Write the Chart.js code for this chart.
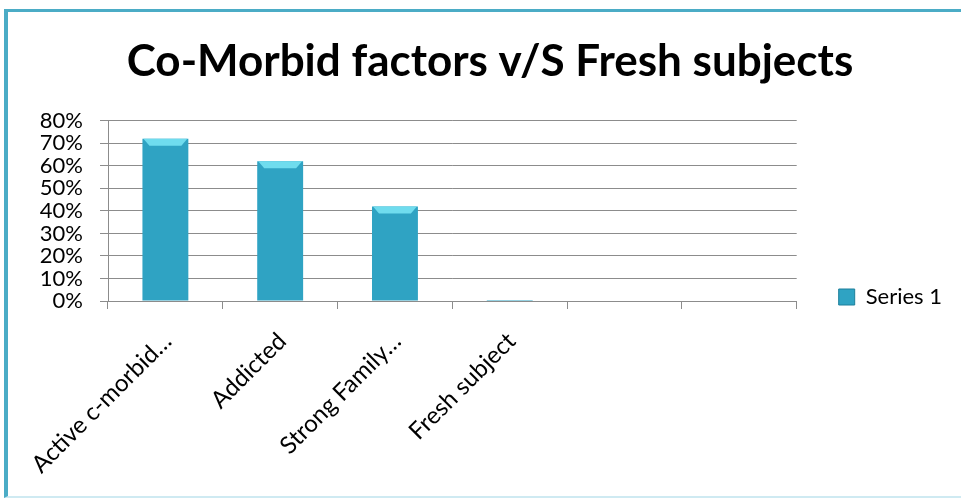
<!DOCTYPE html>
<html>
<head>
<meta charset="utf-8">
<script src="https://cdn.jsdelivr.net/npm/chart.js@4.4.0/dist/chart.umd.min.js"></script>
<style>
  html, body { margin: 0; padding: 0; background: #fff; overflow: hidden; }
  #frame {
    position: absolute; left: 4px; top: 9px; width: 980px; height: 484px;
    border-left: 4px solid #4bacc6; border-top: 3px solid #4bacc6;
    border-bottom: 2px solid #cfeaf2;
  }
  #wrap { position: absolute; left: 0; top: 0; width: 961px; height: 498px; }
</style>
</head>
<body>
<div id="frame"></div>
<div id="wrap"><canvas id="chart"></canvas></div>
<script>
const categories = ["Active c-morbid…", "Addicted", "Strong Family…", "Fresh subject", "", ""];
const series1 = [0.72, 0.62, 0.42, 0.004, null, null];
const yTicks = [0, 0.1, 0.2, 0.3, 0.4, 0.5, 0.6, 0.7, 0.8];

const font = "Lato, 'Open Sans', sans-serif";
const canvas = document.getElementById("chart");

// per bar horizontal gradient, dark edges and light middle
function barFill(ctx) {
    const chart = ctx.chart;
    if (!chart.chartArea || ctx.type !== "data") return "#2fa3c3";
    const meta = chart.getDatasetMeta(ctx.datasetIndex);
    const bar = meta.data[ctx.dataIndex];
    if (!bar || !isFinite(bar.x) || !isFinite(bar.width)) return "#2fa3c3";
    const x0 = bar.x - bar.width / 2, x1 = bar.x + bar.width / 2;
    const g = chart.ctx.createLinearGradient(x0, 0, x1, 0);
    if (ctx.dataIndex === 3) {
        g.addColorStop(0, "#b9dfea");
        g.addColorStop(1, "#d3ecf3");
        return g;
    }
    g.addColorStop(0, "#1d7f9b");
    g.addColorStop(0.12, "#2a9fc0");
    g.addColorStop(0.5, "#38b3d3");
    g.addColorStop(0.88, "#2a9fc0");
    g.addColorStop(1, "#1b7791");
    return g;
}

// light bevel on top of each bar
const bevel = {
    id: "bevel",
    afterDatasetsDraw(chart) {
        const c = chart.ctx;
        chart.getDatasetMeta(0).data.forEach((bar, i) => {
            if (series1[i] == null || series1[i] < 0.02) return;
            const x0 = bar.x - bar.width / 2, w = bar.width;
            c.save();
            c.fillStyle = "#6fdcee";
            c.beginPath();
            c.moveTo(x0 + 1, bar.y);
            c.lineTo(x0 + w - 1, bar.y);
            c.lineTo(x0 + w - 7, bar.y + 7);
            c.lineTo(x0 + 7, bar.y + 7);
            c.closePath();
            c.fill();
            c.restore();
        });
    }
};

new Chart(canvas, {
    type: "bar",
    data: {
        labels: categories,
        datasets: [{
            label: "Series 1",
            data: series1,
            backgroundColor: barFill,
            borderWidth: 0,
            barPercentage: 0.4,
            categoryPercentage: 1
        }]
    },
    plugins: [bevel],
    options: {
        responsive: true,
        maintainAspectRatio: false,
        animation: false,
        layout: { padding: { top: 10, left: 28, right: 9, bottom: 14 } },
        scales: {
            x: {
                grid: { drawOnChartArea: false, color: "#8c8c8c", tickLength: 8, offset: true },
                border: { color: "#8c8c8c", width: 1 },
                ticks: {
                    color: "#000",
                    font: { family: font, size: 24 },
                    minRotation: 45,
                    maxRotation: 45,
                    padding: 18,
                    labelOffset: 2
                },
                afterFit: (s) => { s.height = 183; }
            },
            y: {
                min: 0,
                max: 0.8,
                afterBuildTicks: (s) => { s.ticks = yTicks.map(v => ({ value: v })); },
                grid: { color: "#8c8c8c", tickLength: 8 },
                border: { color: "#8c8c8c", width: 1 },
                ticks: {
                    color: "#000",
                    autoSkip: false,
                    font: { family: font, size: 22, lineHeight: 1 },
                    padding: 17,
                    callback: (v) => Math.round(v * 100) + "%"
                },
                afterFit: (s) => { s.width = 80; }
            }
        },
        plugins: {
            title: {
                display: true,
                text: "Co-Morbid factors v/S Fresh subjects",
                color: "#000",
                font: { family: font, size: 44, weight: "bold", lineHeight: 1.2 },
                padding: { top: 25, bottom: 33 }
            },
            legend: {
                position: "right",
                align: "center",
                title: {
                    display: true,
                    text: " ",
                    font: { family: font, size: 20, lineHeight: 1 },
                    padding: { top: 0, bottom: 80 }
                },
                labels: {
                    color: "#000",
                    font: { family: font, size: 22 },
                    boxWidth: 16,
                    boxHeight: 16,
                    padding: 42,
                    generateLabels: (chart) => [{
                        text: "Series 1",
                        fillStyle: "#2fa3c3",
                        strokeStyle: "#1d7f9b",
                        fontColor: "#000",
                        lineWidth: 1,
                        datasetIndex: 0
                    }]
                }
            },
            tooltip: { enabled: false }
        }
    }
});
</script>
</body>
</html>
